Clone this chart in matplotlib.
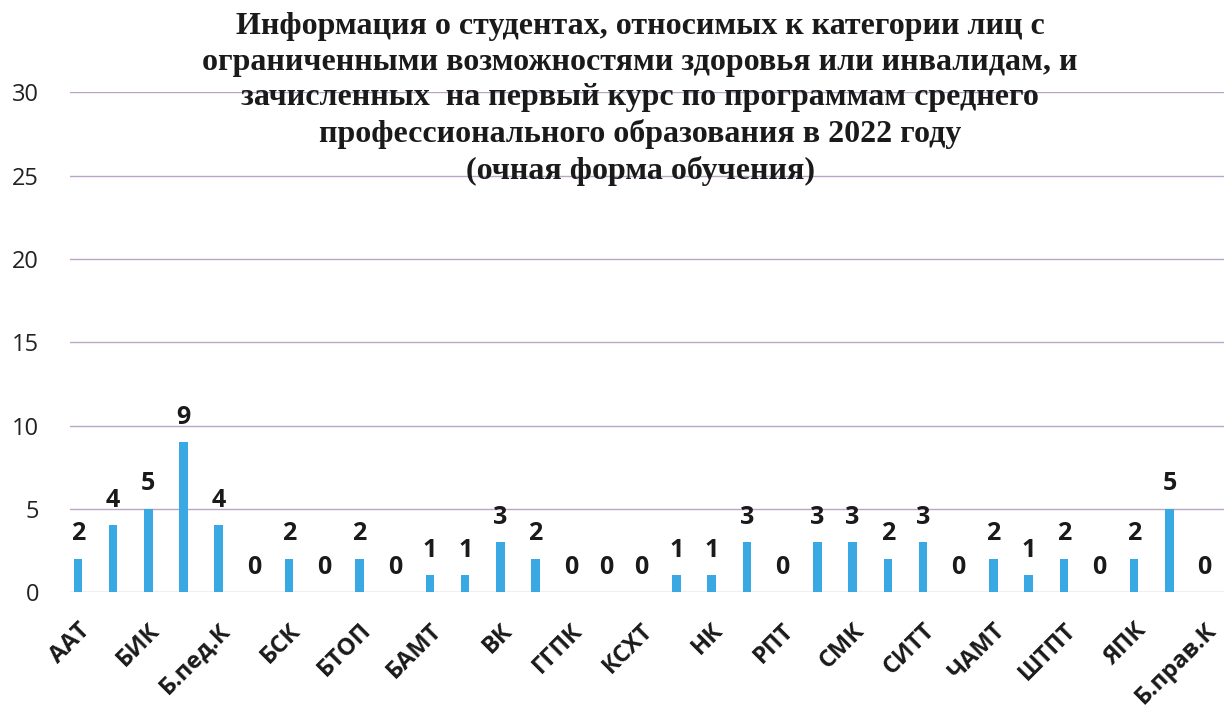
import matplotlib.pyplot as plt
import matplotlib.transforms as mtransforms
import numpy as np

# values for all 33 colleges, labels shown for every other one
values = [2, 4, 5, 9, 4, 0, 2, 0, 2, 0, 1, 1, 3, 2, 0, 0, 0,
          1, 1, 3, 0, 3, 3, 2, 3, 0, 2, 1, 2, 0, 2, 5, 0]
shown_labels = ['ААТ', 'БИК', 'Б.пед.К', 'БСК', 'БТОП', 'БАМТ', 'ВК', 'ГГПК',
                'КСХТ', 'НК', 'РПТ', 'СМК', 'СИТТ', 'ЧАМТ', 'ШТПТ', 'ЯПК', 'Б.прав.К']
yticks = [0, 5, 10, 15, 20, 25, 30]

title = ('Информация о студентах, относимых к категории лиц с\n'
         'ограниченными возможностями здоровья или инвалидам, и\n'
         'зачисленных  на первый курс по программам среднего\n'
         'профессионального образования в 2022 году\n'
         '(очная форма обучения)')

fig = plt.figure(figsize=(12.24, 7.1), dpi=100)
ax = fig.add_axes([0.057, 0.166, 0.943, 0.704])

x = np.arange(len(values))
ax.bar(x, values, width=0.24, color='#3aa8e2', zorder=3)

for xi, v in zip(x, values):
    ax.annotate(str(v), (xi, v), xytext=(0, 9), textcoords='offset points',
                ha='center', va='bottom', fontsize=18, fontweight='bold',
                family='Open Sans', color='#1a1a1a')

ax.set_xlim(-0.23, 32.55)
ax.set_ylim(0, 30)
ax.set_yticks(yticks)
ax.set_yticklabels([str(t) for t in yticks], fontsize=17, family='Open Sans', color='#222222')
ax.set_xticks(x[::2])
ax.set_xticklabels(shown_labels, rotation=45, ha='right', rotation_mode='anchor',
                   fontsize=17, fontweight='bold', family='Open Sans', color='#1a1a1a')
# labels sit a little to the right of their bars
shift = mtransforms.ScaledTranslation(20 / 100, 0, fig.dpi_scale_trans)
for lbl in ax.get_xticklabels():
    lbl.set_transform(lbl.get_transform() + shift)
ax.tick_params(axis='both', length=0)
ax.tick_params(axis='y', pad=22)
ax.tick_params(axis='x', pad=19)
ax.grid(axis='y', color='#b8a6c6', linewidth=1.0, zorder=0)
for s in ax.spines.values():
    s.set_visible(False)

fig.text(0.523, 0.983, title, ha='center', va='top', fontsize=23, fontweight='bold',
         family='Liberation Serif', linespacing=1.3, color='#1a1a1a')

fig.savefig('out.png', dpi=100)
